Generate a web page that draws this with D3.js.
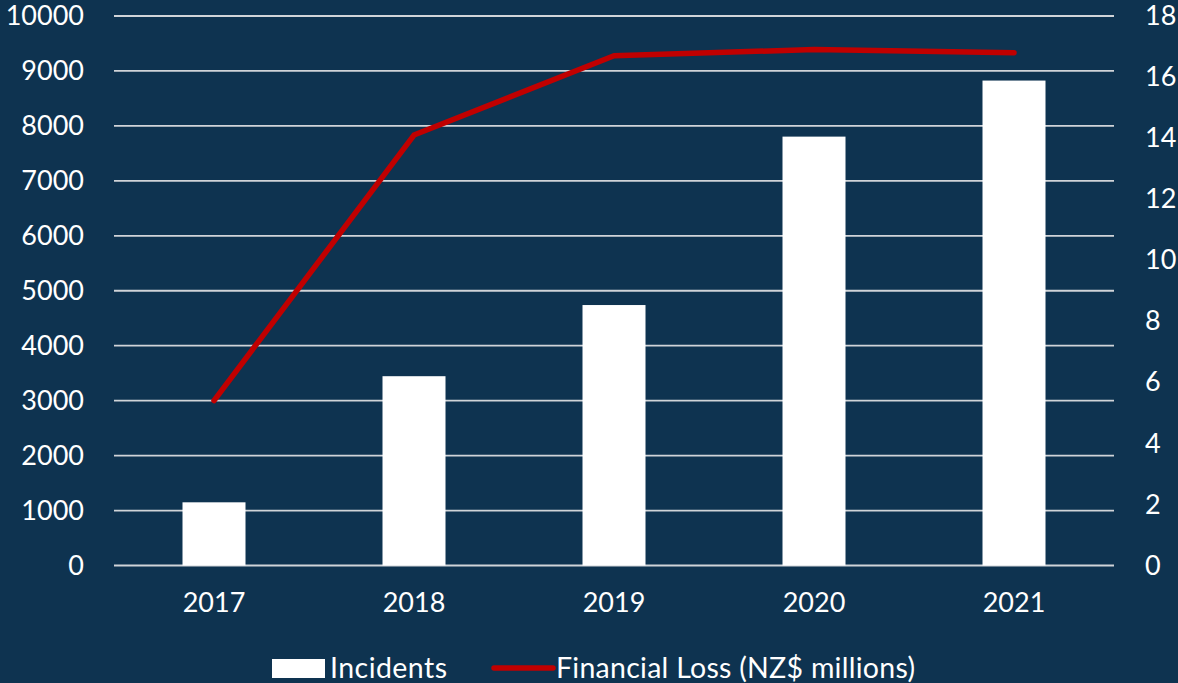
<!DOCTYPE html>
<html>
<head>
<meta charset="utf-8">
<script src="https://cdn.jsdelivr.net/npm/d3@7"></script>
<style>
  html, body { margin: 0; padding: 0; background: #0e3350; }
  svg { display: block; }
  text { font-family: Lato, "Open Sans", sans-serif; fill: #ffffff; }
</style>
</head>
<body>
<svg id="chart" width="1178" height="683"></svg>
<script>
// Reported cyber incidents and financial loss by year
const years = ["2017", "2018", "2019", "2020", "2021"];
const incidents = [1150, 3445, 4740, 7805, 8825];
const lossMillions = [5.4, 14.1, 16.7, 16.9, 16.8];
const leftTicks = [0, 1000, 2000, 3000, 4000, 5000, 6000, 7000, 8000, 9000, 10000];
const rightTicks = [0, 2, 4, 6, 8, 10, 12, 14, 16, 18];
const seriesNames = ["Incidents", "Financial Loss (NZ$ millions)"];

const W = 1178, H = 683;
const plot = { left: 114, right: 1114, top: 16, bottom: 565.5 };
const bg = "#0e3350";
const gridColor = "#d0d4d8";
const lineColor = "#c00000";

const svg = d3.select("#chart");
svg.append("rect").attr("width", W).attr("height", H).attr("fill", bg);

const x = d3.scaleBand().domain(years).range([plot.left, plot.right])
  .paddingInner(0.685).paddingOuter(0.3425);
const yL = d3.scaleLinear().domain([0, 10000]).range([plot.bottom, plot.top]);
const yR = d3.scaleLinear().domain([0, 18]).range([plot.bottom, plot.top]);

// Horizontal gridlines
svg.append("g").selectAll("line").data(leftTicks).join("line")
  .attr("x1", plot.left).attr("x2", plot.right)
  .attr("y1", d => yL(d)).attr("y2", d => yL(d))
  .attr("stroke", gridColor).attr("stroke-width", 1.8);

// Left axis labels
const fs = 27;
const leftAxis = d3.axisLeft(yL).tickValues(leftTicks).tickSize(0).tickPadding(0).tickFormat(d3.format("d"));
const gl = svg.append("g").attr("transform", "translate(84,0)").call(leftAxis);
gl.select(".domain").remove();
gl.selectAll("text").attr("font-size", fs).attr("fill", "#fff").attr("font-family", "Lato, sans-serif");

// Right axis labels
const rightAxis = d3.axisRight(yR).tickValues(rightTicks).tickSize(0).tickPadding(0).tickFormat(d3.format("d"));
const gr = svg.append("g").attr("transform", "translate(1145,0)").call(rightAxis);
gr.select(".domain").remove();
gr.selectAll("text").attr("font-size", fs).attr("fill", "#fff").attr("font-family", "Lato, sans-serif");

// Bottom axis labels
const bottomAxis = d3.axisBottom(x).tickSize(0).tickPadding(0);
const gb = svg.append("g").attr("transform", `translate(0,${plot.bottom + 27})`).call(bottomAxis);
gb.select(".domain").remove();
gb.selectAll("text").attr("font-size", fs).attr("fill", "#fff").attr("font-family", "Lato, sans-serif");

// Incident bars
svg.append("g").selectAll("rect").data(years).join("rect")
  .attr("x", d => x(d))
  .attr("width", x.bandwidth())
  .attr("y", (d, i) => yL(incidents[i]))
  .attr("height", (d, i) => plot.bottom - yL(incidents[i]))
  .attr("fill", "#ffffff");

// Financial loss line
const line = d3.line()
  .x((d, i) => x(years[i]) + x.bandwidth() / 2)
  .y(d => yR(d));
svg.append("path").datum(lossMillions)
  .attr("d", line)
  .attr("fill", "none")
  .attr("stroke", lineColor)
  .attr("stroke-width", 5.5)
  .attr("stroke-linejoin", "round")
  .attr("stroke-linecap", "round");

// Legend
const lfs = 28.5;
const lg = svg.append("g");
lg.append("rect").attr("x", 272).attr("y", 659).attr("width", 53).attr("height", 19).attr("fill", "#fff");
lg.append("text").attr("x", 330).attr("y", 668).attr("dy", "0.35em")
  .attr("font-size", lfs).attr("textLength", 117).text(seriesNames[0]);
lg.append("line").attr("x1", 494).attr("x2", 553).attr("y1", 668).attr("y2", 668)
  .attr("stroke", lineColor).attr("stroke-width", 5.5).attr("stroke-linecap", "round");
lg.append("text").attr("x", 556).attr("y", 668).attr("dy", "0.35em")
  .attr("font-size", lfs).attr("textLength", 359).text(seriesNames[1]);
</script>
</body>
</html>
